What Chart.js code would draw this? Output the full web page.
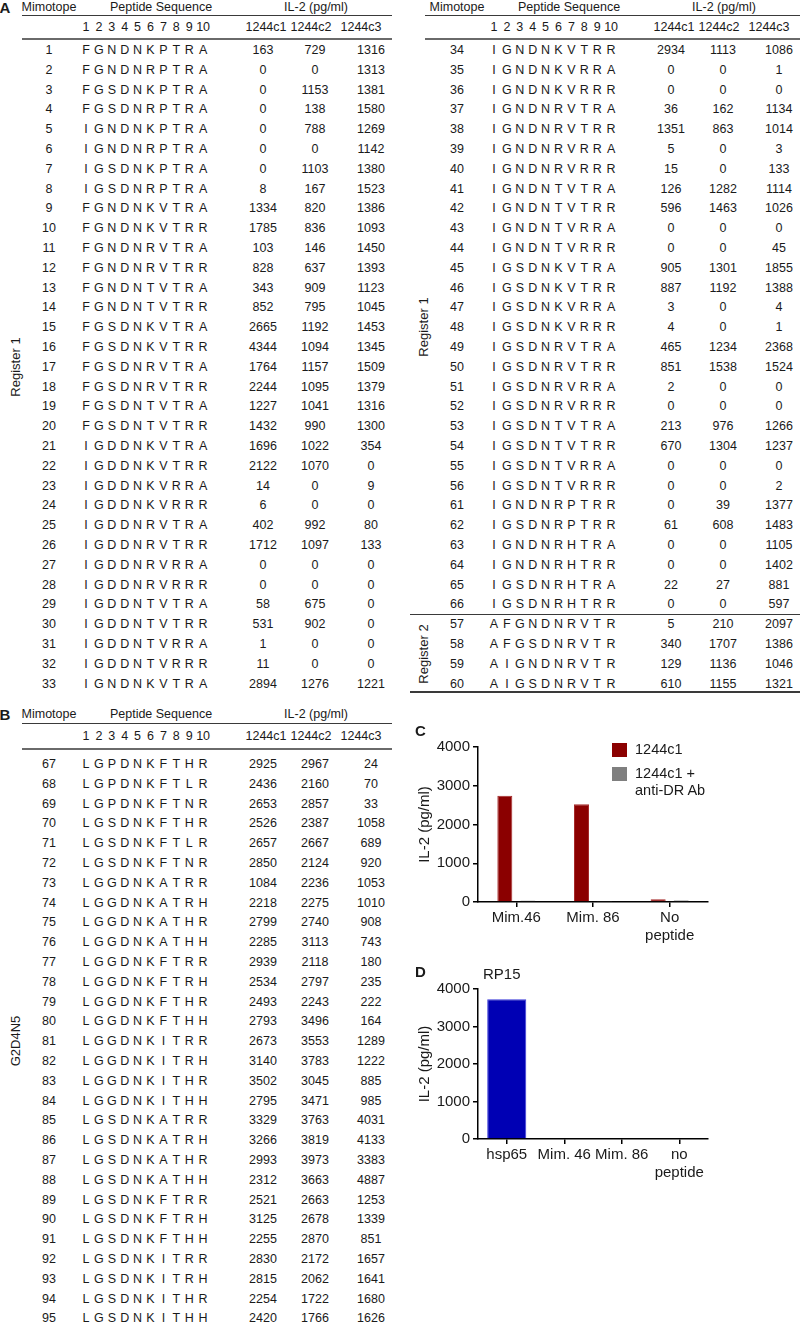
<!DOCTYPE html>
<html><head><meta charset="utf-8">
<script src="https://cdn.jsdelivr.net/npm/chart.js@4.4.0/dist/chart.umd.min.js"></script>
<style>
html,body{margin:0;padding:0;background:#fff}
body{width:800px;height:1331px;position:relative;overflow:hidden;font-family:"Liberation Sans",Arial,sans-serif;color:#1a1a1a}
.t{position:absolute;white-space:nowrap;font-size:12.5px;line-height:1;transform:translate(-50%,-50%)}
.b{font-weight:bold;font-size:15px}
.rot{transform:translate(-50%,-50%) rotate(-90deg);font-size:13px}
.hl{position:absolute}
canvas{position:absolute}
.lg{position:absolute;font-size:14.5px;line-height:17px;white-space:nowrap}
.sw{position:absolute;width:15px;height:14px}
</style></head><body>
<canvas id="chartC" width="320" height="226" style="left:400px;top:722px;width:320px;height:226px"></canvas>
<canvas id="chartD" width="320" height="224" style="left:400px;top:958px;width:320px;height:224px"></canvas>
<script>
// ---------- Table A, left (Register 1) ----------
const mimotopesA1 = [1,2,3,4,5,6,7,8,9,10,11,12,13,14,15,16,17,18,19,20,21,22,23,24,25,26,27,28,29,30,31,32,33];
const sequencesA1 = ["FGNDNKPTRA","FGNDNRPTRA","FGSDNKPTRA","FGSDNRPTRA","IGNDNKPTRA","IGNDNRPTRA","IGSDNKPTRA","IGSDNRPTRA",
  "FGNDNKVTRA","FGNDNKVTRR","FGNDNRVTRA","FGNDNRVTRR","FGNDNTVTRA","FGNDNTVTRR","FGSDNKVTRA","FGSDNKVTRR",
  "FGSDNRVTRA","FGSDNRVTRR","FGSDNTVTRA","FGSDNTVTRR","IGDDNKVTRA","IGDDNKVTRR","IGDDNKVRRA","IGDDNKVRRR",
  "IGDDNRVTRA","IGDDNRVTRR","IGDDNRVRRA","IGDDNRVRRR","IGDDNTVTRA","IGDDNTVTRR","IGDDNTVRRA","IGDDNTVRRR","IGNDNKVTRA"];
const c1_A1 = [163,0,0,0,0,0,0,8,1334,1785,103,828,343,852,2665,4344,1764,2244,1227,1432,1696,2122,14,6,402,1712,0,0,58,531,1,11,2894];
const c2_A1 = [729,0,1153,138,788,0,1103,167,820,836,146,637,909,795,1192,1094,1157,1095,1041,990,1022,1070,0,0,992,1097,0,0,675,902,0,0,1276];
const c3_A1 = [1316,1313,1381,1580,1269,1142,1380,1523,1386,1093,1450,1393,1123,1045,1453,1345,1509,1379,1316,1300,354,0,9,0,80,133,0,0,0,0,0,0,1221];

// ---------- Table A, right (Register 1 + Register 2) ----------
const mimotopesA2 = [34,35,36,37,38,39,40,41,42,43,44,45,46,47,48,49,50,51,52,53,54,55,56,61,62,63,64,65,66,57,58,59,60];
const sequencesA2 = ["IGNDNKVTRR","IGNDNKVRRA","IGNDNKVRRR","IGNDNRVTRA","IGNDNRVTRR","IGNDNRVRRA","IGNDNRVRRR","IGNDNTVTRA",
  "IGNDNTVTRR","IGNDNTVRRA","IGNDNTVRRR","IGSDNKVTRA","IGSDNKVTRR","IGSDNKVRRA","IGSDNKVRRR","IGSDNRVTRA",
  "IGSDNRVTRR","IGSDNRVRRA","IGSDNRVRRR","IGSDNTVTRA","IGSDNTVTRR","IGSDNTVRRA","IGSDNTVRRR","IGNDNRPTRR",
  "IGSDNRPTRR","IGNDNRHTRA","IGNDNRHTRR","IGSDNRHTRA","IGSDNRHTRR","AFGNDNRVTR","AFGSDNRVTR","AIGNDNRVTR","AIGSDNRVTR"];
const c1_A2 = [2934,0,0,36,1351,5,15,126,596,0,0,905,887,3,4,465,851,2,0,213,670,0,0,0,61,0,0,22,0,5,340,129,610];
const c2_A2 = [1113,0,0,162,863,0,0,1282,1463,0,0,1301,1192,0,0,1234,1538,0,0,976,1304,0,0,39,608,0,0,27,0,210,1707,1136,1155];
const c3_A2 = [1086,1,0,1134,1014,3,133,1114,1026,0,45,1855,1388,4,1,2368,1524,0,0,1266,1237,0,2,1377,1483,1105,1402,881,597,2097,1386,1046,1321];
const register2Count = 4;

// ---------- Table B (G2D4N5) ----------
const mimotopesB = [67,68,69,70,71,72,73,74,75,76,77,78,79,80,81,82,83,84,85,86,87,88,89,90,91,92,93,94,95];
const sequencesB = ["LGPDNKFTHR","LGPDNKFTLR","LGPDNKFTNR","LGSDNKFTHR","LGSDNKFTLR","LGSDNKFTNR","LGGDNKATRR","LGGDNKATRH",
  "LGGDNKATHR","LGGDNKATHH","LGGDNKFTRR","LGGDNKFTRH","LGGDNKFTHR","LGGDNKFTHH","LGGDNKITRR","LGGDNKITRH",
  "LGGDNKITHR","LGGDNKITHH","LGSDNKATRR","LGSDNKATRH","LGSDNKATHR","LGSDNKATHH","LGSDNKFTRR","LGSDNKFTRH",
  "LGSDNKFTHH","LGSDNKITRR","LGSDNKITRH","LGSDNKITHR","LGSDNKITHH"];
const c1_B = [2925,2436,2653,2526,2657,2850,1084,2218,2799,2285,2939,2534,2493,2793,2673,3140,3502,2795,3329,3266,2993,2312,2521,3125,2255,2830,2815,2254,2420];
const c2_B = [2967,2160,2857,2387,2667,2124,2236,2275,2740,3113,2118,2797,2243,3496,3553,3783,3045,3471,3763,3819,3973,3663,2663,2678,2870,2172,2062,1722,1766];
const c3_B = [24,70,33,1058,689,920,1053,1010,908,743,180,235,222,164,1289,1222,885,985,4031,4133,3383,4887,1253,1339,851,1657,1641,1680,1626];

const positionLabels = ["1","2","3","4","5","6","7","8","9","10"];
const cloneLabels = ["1244c1","1244c2","1244c3"];

// ---------- Panel C ----------
const cCategories = [["Mim.46"],["Mim. 86"],["No","peptide"]];
const cSeriesNames = [["1244c1"],["1244c1 +","anti-DR Ab"]];
const c_1244c1 = [2740, 2520, 70];
const c_antiDR = [40, 15, 45];
// ---------- Panel D ----------
const dCategories = [["hsp65"],["Mim. 46"],["Mim. 86"],["no","peptide"]];
const d_RP15 = [3730, 0, 0, 0];
const dBarLabels = ["RP15","","",""];
const yTicks = [0,1000,2000,3000,4000];

// ---------- drawing helpers ----------
const body = document.body;
function txt(x, y, s, cls, extra) {
  const d = document.createElement('div');
  d.className = 't' + (cls ? ' ' + cls : '');
  d.style.left = x + 'px'; d.style.top = y + 'px';
  if (extra) Object.assign(d.style, extra);
  d.textContent = s; body.appendChild(d); return d;
}
function hline(x1, x2, y, w, col) {
  const d = document.createElement('div');
  d.className = 'hl';
  d.style.left = x1 + 'px'; d.style.top = (y - w / 2) + 'px';
  d.style.width = (x2 - x1) + 'px'; d.style.height = w + 'px'; d.style.background = col;
  body.appendChild(d);
}

function drawTable(o) {
  const {dx, top, ids, seqs, v1, v2, v3, letter, lineStart, lineEnd, rowStep, h} = o;
  const seqX = k => dx + 86 + k * 12.9 + (k === 9 ? 1 : 0);
  if (letter) txt(5, top, letter, 'b');
  txt(dx + 49, top, 'Mimotope');
  txt(dx + 161, top, 'Peptide Sequence');
  txt(dx + 316, top, 'IL-2 (pg/ml)');
  hline(lineStart, lineEnd, top + h[0], 1, '#3a3a3a');
  positionLabels.forEach((p, k) => txt(seqX(k), top + h[1], p));
  const hx = [266, 311, 361];
  cloneLabels.forEach((c, k) => txt(dx + hx[k], top + h[1], c));
  hline(lineStart, lineEnd, top + h[2], 2, '#6a6a6a');
  const vx = [263, 315, 371];
  const rows = [];
  ids.forEach((id, i) => {
    const y = top + h[3] + i * rowStep;
    rows.push(y);
    txt(dx + 49, y, String(id));
    seqs[i].split('').forEach((ch, k) => txt(seqX(k), y, ch));
    txt(dx + vx[0], y, String(v1[i]));
    txt(dx + vx[1], y, String(v2[i]));
    txt(dx + vx[2], y, String(v3[i]));
  });
  return rows;
}

// Table A left
const hA = [8, 20, 32, 43];
const rowsA1 = drawTable({dx: 0, top: 7, ids: mimotopesA1, seqs: sequencesA1, v1: c1_A1, v2: c2_A1, v3: c3_A1,
  letter: 'A', lineStart: 22, lineEnd: 392, rowStep: 19.8, h: hA});
txt(15, (rowsA1[0] + rowsA1[rowsA1.length - 1]) / 2, 'Register 1', 'rot');

// Table A right
const rowsA2 = drawTable({dx: 408, top: 7, ids: mimotopesA2, seqs: sequencesA2, v1: c1_A2, v2: c2_A2, v3: c3_A2,
  letter: null, lineStart: 425, lineEnd: 800, rowStep: 19.8, h: hA});
const nReg1 = mimotopesA2.length - register2Count;
txt(423, (rowsA2[0] + rowsA2[nReg1 - 1]) / 2, 'Register 1', 'rot');
txt(423, (rowsA2[nReg1] + rowsA2[rowsA2.length - 1]) / 2, 'Register 2', 'rot');
hline(410, 800, (rowsA2[nReg1 - 1] + rowsA2[nReg1]) / 2, 1.5, '#3a3a3a');
hline(410, 800, rowsA2[rowsA2.length - 1] + 8.5, 1.5, '#3a3a3a');

// Table B
const rowsB = drawTable({dx: 0, top: 714, ids: mimotopesB, seqs: sequencesB, v1: c1_B, v2: c2_B, v3: c3_B,
  letter: 'B', lineStart: 22, lineEnd: 392, rowStep: 19.8, h: [9, 22, 35, 50]});
txt(15, (rowsB[0] + rowsB[rowsB.length - 1]) / 2, 'G2D4N5', 'rot');

// ---------- Charts ----------
const FONT = '"Liberation Sans", Arial, sans-serif';
Chart.defaults.font.family = FONT;
Chart.defaults.color = '#1a1a1a';

function axes(xHeight) {
  return {
    x: {
      grid: {display: true, drawOnChartArea: false, offset: false, tickLength: 5, color: '#000', lineWidth: 1.5},
      border: {display: true, color: '#000', width: 1.5},
      ticks: {font: {size: 15}, color: '#1a1a1a', padding: 2, maxRotation: 0, autoSkip: false},
      afterFit: s => { s.height = xHeight; }
    },
    y: {
      min: 0, max: 4000,
      afterBuildTicks: s => { s.ticks = yTicks.map(v => ({value: v})); },
      ticks: {font: {size: 15}, color: '#1a1a1a', padding: 3, callback: v => String(v)},
      grid: {display: true, drawOnChartArea: false, tickLength: 5, color: '#000', lineWidth: 1.5},
      border: {display: true, color: '#000', width: 1.5},
      title: {display: true, text: 'IL-2 (pg/ml)', font: {size: 15}, color: '#1a1a1a', padding: {top: 16, bottom: 0}},
      afterFit: s => { s.width = 78; }
    }
  };
}

// Panel C
txt(415, 730, 'C', 'b', {transform: 'translate(0,-50%)'});
const chartC = new Chart(document.getElementById('chartC'), {
  type: 'bar',
  data: {
    labels: cCategories,
    datasets: [
      {label: cSeriesNames[0], data: c_1244c1, backgroundColor: '#8b0000', borderColor: '#a52a2a', borderWidth: 1},
      {label: cSeriesNames[1], data: c_antiDR, backgroundColor: '#7f7f7f', borderColor: '#999999', borderWidth: 1}
    ]
  },
  options: {
    responsive: false, animation: false, devicePixelRatio: 1,
    layout: {padding: {top: 25, right: 12, bottom: 0, left: 0}},
    datasets: {bar: {categoryPercentage: 0.6, barPercentage: 0.652}},
    plugins: {legend: {display: false}, tooltip: {enabled: false}},
    scales: axes(46)
  }
});
// HTML legend built from the chart's datasets
chartC.data.datasets.forEach((ds, i) => {
  const y = 743 + i * 24;
  const sw = document.createElement('div');
  sw.className = 'sw'; sw.style.left = '612px'; sw.style.top = y + 'px'; sw.style.background = ds.backgroundColor;
  body.appendChild(sw);
  const t = document.createElement('div');
  t.className = 'lg'; t.style.left = '635px'; t.style.top = (y - 2) + 'px';
  t.innerHTML = ds.label.join('<br>');
  body.appendChild(t);
});

// Panel D
txt(415, 971, 'D', 'b', {transform: 'translate(0,-50%)'});
const barTopLabel = {
  id: 'barTopLabel',
  afterDatasetsDraw(chart, args, opts) {
    const meta = chart.getDatasetMeta(0);
    const ctx = chart.ctx;
    ctx.save();
    ctx.font = '15px ' + FONT; ctx.fillStyle = '#1a1a1a';
    ctx.textAlign = 'center'; ctx.textBaseline = 'middle';
    opts.labels.forEach((s, i) => { if (s) ctx.fillText(s, meta.data[i].x - 5, chart.chartArea.top - 14); });
    ctx.restore();
  }
};
new Chart(document.getElementById('chartD'), {
  type: 'bar',
  data: {
    labels: dCategories,
    datasets: [{label: 'RP15', data: d_RP15, backgroundColor: '#0000b4', borderColor: '#3a3ad8',
      borderWidth: c => (c.raw > 0 ? 1 : 0)}]
  },
  options: {
    responsive: false, animation: false, devicePixelRatio: 1,
    layout: {padding: {top: 31, right: 12, bottom: 0, left: 0}},
    datasets: {bar: {categoryPercentage: 0.8, barPercentage: 0.85}},
    plugins: {legend: {display: false}, tooltip: {enabled: false}, barTopLabel: {labels: dBarLabels}},
    scales: axes(43)
  },
  plugins: [barTopLabel]
});
</script>
</body></html>
